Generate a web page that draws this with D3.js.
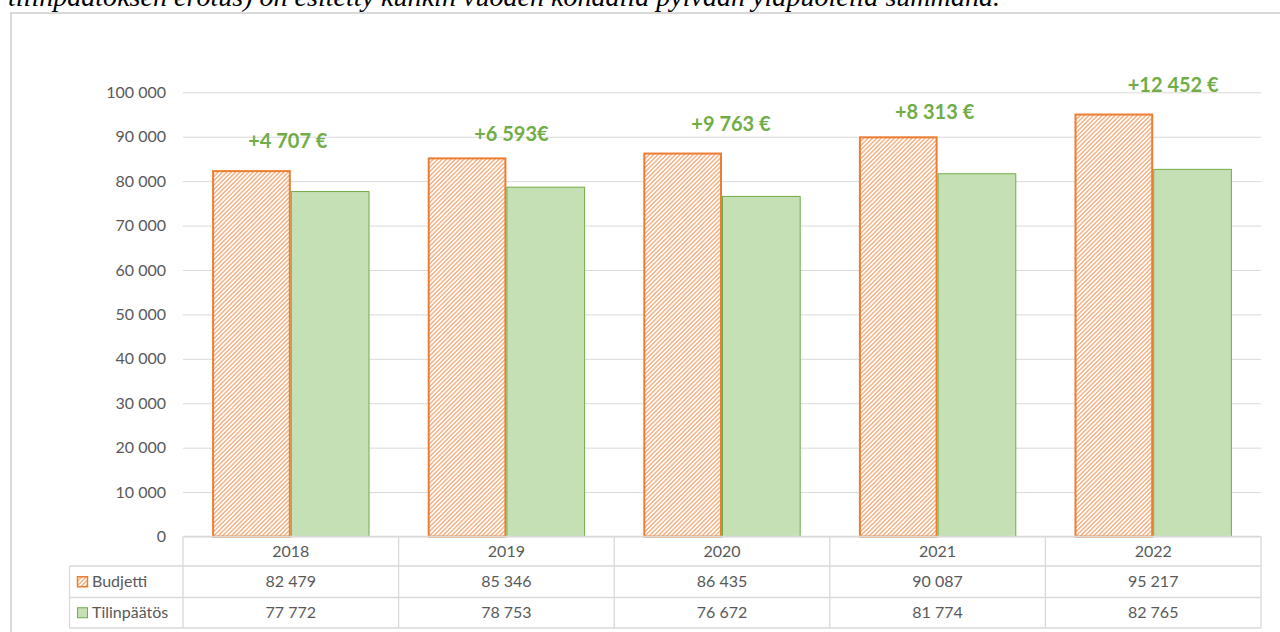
<!DOCTYPE html>
<html>
<head>
<meta charset="utf-8">
<script src="https://cdn.jsdelivr.net/npm/d3@7"></script>
<style>
  html, body { margin: 0; padding: 0; background: #fff; }
  svg { display: block; }
</style>
</head>
<body>
<svg id="chart" width="1280" height="632"></svg>
<script>
// ---- data ----
const years = ["2018", "2019", "2020", "2021", "2022"];
const seriesNames = ["Budjetti", "Tilinpäätös"];
const budjetti = [82479, 85346, 86435, 90087, 95217];
const tilinpaatos = [77772, 78753, 76672, 81774, 82765];
const diffLabels = ["+4 707 €", "+6 593€", "+9 763 €", "+8 313 €", "+12 452 €"];
const yTicks = [0, 10000, 20000, 30000, 40000, 50000, 60000, 70000, 80000, 90000, 100000];
const captionText = "tilinpäätöksen erotus) on esitetty kunkin vuoden kohdalla pylvään yläpuolella summana.";

// ---- drawing ----
const svg = d3.select("#chart");
const font = "Lato, 'Open Sans', sans-serif";
const grey = "#595959";
const orange = "#ED7D31";
const greenFill = "#C5E0B4";
const greenStroke = "#70AD47";
const gridColor = "#D9D9D9";

const defs = svg.append("defs");
const P = 3.1;
const pat = defs.append("pattern")
  .attr("id", "hatch")
  .attr("patternUnits", "userSpaceOnUse")
  .attr("width", P).attr("height", P)
  .attr("patternTransform", "rotate(45)");
pat.append("rect").attr("width", P).attr("height", P).attr("fill", "#fff");
pat.append("line").attr("x1", 0.8).attr("y1", 0).attr("x2", 0.8).attr("y2", P)
  .attr("stroke", orange).attr("stroke-width", 1.1).attr("stroke-opacity", 0.8);

// caption (cut off at the top, as in the source)
svg.append("text")
  .attr("x", 8).attr("y", 6)
  .attr("font-family", "'Liberation Serif', 'Times New Roman', serif")
  .attr("font-style", "italic")
  .attr("font-size", 27)
  .attr("textLength", 992)
  .attr("lengthAdjust", "spacingAndGlyphs")
  .attr("fill", "#000")
  .text(captionText);

// frame
svg.append("rect")
  .attr("x", 11).attr("y", 13).attr("width", 1300).attr("height", 700)
  .attr("fill", "none").attr("stroke", gridColor).attr("stroke-width", 2);

const plotLeft = 183, plotRight = 1261;
const y = d3.scaleLinear().domain([0, 100000]).range([536.5, 92.3]);
const x = d3.scaleBand().domain(years).range([plotLeft, plotRight]).padding(0);
const xs = d3.scaleBand().domain(seriesNames).range([0, x.bandwidth()]).paddingInner(0).paddingOuter(0.37);

const fmt = d3.formatLocale({ decimal: ",", thousands: " ", grouping: [3], currency: ["", " €"] }).format(",d");

// gridlines + y labels
const yAxis = d3.axisLeft(y).tickValues(yTicks).tickFormat(fmt)
  .tickSize(-(plotRight - plotLeft)).tickPadding(17);
const gy = svg.append("g").attr("transform", `translate(${plotLeft},0)`).call(yAxis);
gy.select(".domain").remove();
gy.selectAll(".tick line").attr("stroke", gridColor).attr("stroke-width", 1);
gy.selectAll(".tick text").attr("fill", grey).attr("font-family", font).attr("font-size", 16);

// bars
const rows = years.map((yr, i) => ({ year: yr, vals: [budjetti[i], tilinpaatos[i]] }));
const groups = svg.append("g").selectAll("g").data(rows).join("g")
  .attr("transform", d => `translate(${x(d.year)},0)`);

groups.selectAll("rect").data(d => d.vals.map((v, j) => ({ name: seriesNames[j], v })))
  .join("rect")
  .attr("x", d => xs(d.name) + (d.name === "Budjetti" ? 1 : 0.5))
  .attr("y", d => y(d.v) + (d.name === "Budjetti" ? 1 : 0.5))
  .attr("width", d => xs.bandwidth() - (d.name === "Budjetti" ? 2 : 1))
  .attr("height", d => y(0) - y(d.v) - (d.name === "Budjetti" ? 1 : 0.5))
  .attr("fill", d => d.name === "Budjetti" ? "url(#hatch)" : greenFill)
  .attr("stroke", d => d.name === "Budjetti" ? orange : greenStroke)
  .attr("stroke-width", d => d.name === "Budjetti" ? 2 : 1);

// difference labels (manually nudged like the original)
const labelDx = [-3, 5, 9, -3, 20];
const labelDy = [0, 6, 0, 5, 0];
svg.append("g").selectAll("text").data(rows).join("text")
  .attr("x", (d, i) => x(d.year) + x.bandwidth() / 2 + labelDx[i])
  .attr("y", (d, i) => y(d.vals[0]) - 22 + labelDy[i])
  .attr("text-anchor", "middle")
  .attr("font-family", font).attr("font-weight", "bold").attr("font-size", 20)
  .attr("fill", greenStroke)
  .text((d, i) => diffLabels[i]);

// data table
const tTop = y(0), r1 = 566, r2 = 597.5, r3 = 628, tLeft = 69.5;
const tbl = svg.append("g").attr("stroke", gridColor).attr("stroke-width", 1.3).attr("fill", "none");
tbl.append("line").attr("x1", plotLeft).attr("x2", plotRight).attr("y1", tTop).attr("y2", tTop);
[r1, r2, r3].forEach(yy => tbl.append("line").attr("x1", tLeft).attr("x2", plotRight).attr("y1", yy).attr("y2", yy));
tbl.append("line").attr("x1", tLeft).attr("x2", tLeft).attr("y1", r1).attr("y2", r3);
years.forEach(yr => tbl.append("line").attr("x1", x(yr)).attr("x2", x(yr)).attr("y1", tTop).attr("y2", r3));
tbl.append("line").attr("x1", plotRight).attr("x2", plotRight).attr("y1", tTop).attr("y2", r3);

const cellText = (tx, ty, s, anchor) => svg.append("text")
  .attr("x", tx).attr("y", ty).attr("dy", "0.35em")
  .attr("text-anchor", anchor || "middle")
  .attr("font-family", font).attr("font-size", 16).attr("fill", grey).text(s);

years.forEach((yr, i) => {
  const cx = x(yr) + x.bandwidth() / 2;
  cellText(cx, (tTop + r1) / 2, yr);
  cellText(cx, (r1 + r2) / 2, fmt(budjetti[i]));
  cellText(cx, (r2 + r3) / 2, fmt(tilinpaatos[i]));
});

// legend keys in table
const keyY1 = (r1 + r2) / 2, keyY2 = (r2 + r3) / 2;
svg.append("rect").attr("x", 77.5).attr("y", keyY1 - 5).attr("width", 10).attr("height", 10)
  .attr("fill", "url(#hatch)").attr("stroke", orange).attr("stroke-width", 1.5);
svg.append("rect").attr("x", 77.5).attr("y", keyY2 - 5).attr("width", 10).attr("height", 10)
  .attr("fill", greenFill).attr("stroke", greenStroke).attr("stroke-width", 1);
cellText(92, keyY1, seriesNames[0], "start");
cellText(92, keyY2, seriesNames[1], "start");
</script>
</body>
</html>
